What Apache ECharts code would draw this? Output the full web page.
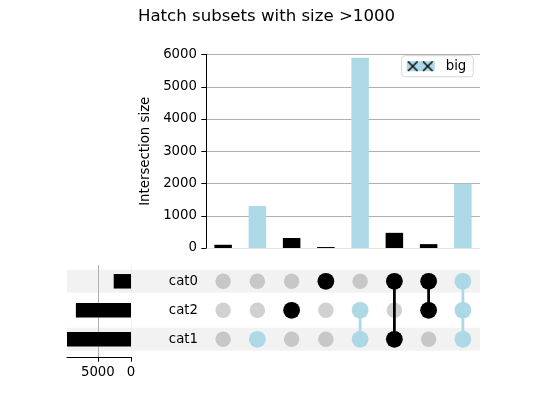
<!DOCTYPE html>
<html><head><meta charset="utf-8">
<script src="https://cdn.jsdelivr.net/npm/echarts@6/dist/echarts.min.js"></script>
<style>html,body{margin:0;padding:0;background:#fff}#c{width:533px;height:400px}</style>
</head><body><div id="c"></div>
<script>
// ---- data ----
const chartTitle = 'Hatch subsets with size >1000';
const categories = ['cat0', 'cat2', 'cat1'];          // matrix rows, top to bottom
const intersectionSizes = [100, 1300, 310, 30, 5900, 470, 120, 1990];
const inCat0 = [0, 0, 0, 1, 0, 1, 1, 1];
const inCat2 = [0, 0, 1, 0, 1, 0, 1, 1];
const inCat1 = [0, 1, 0, 0, 1, 1, 0, 1];
const sizeTicks = [0, 1000, 2000, 3000, 4000, 5000, 6000];
const totalTicks = [0, 5000];
const threshold = 1000;
const legendLabel = 'big';

// ---- derived ----
const membership = [inCat0, inCat2, inCat1];
const columns = intersectionSizes.map((_, j) => 'i' + j);
const totals = membership.map(row => row.reduce((s, m, j) => s + m * intersectionSizes[j], 0));
const maxTotal = Math.max(...totals);
const BLUE = '#add8e6';
const colColor = j => intersectionSizes[j] > threshold ? BLUE : '#000000';

const greyDots = [], activeDots = [], links = [];
columns.forEach((c, j) => {
  const rows = [];
  membership.forEach((row, r) => {
    if (row[j]) { rows.push(r); activeDots.push({ value: [j, r], itemStyle: { color: colColor(j), opacity: 1 } }); }
    else greyDots.push([j, r]);
  });
  if (rows.length > 1) links.push([j, Math.min(...rows), Math.max(...rows)]);
});

const FONT = 'DejaVu Sans';
const FS = 13.3;
const rowTop = 266.8, rowH = 87;

const hatchPath = 'path://M0,0 L1,0 L10,9 L10,10 L9,10 L0,1 Z M9,0 L10,0 L10,1 L1,10 L0,10 L0,9 Z';

const option = {
  animation: false,
  textStyle: { fontFamily: FONT },
  title: {
    text: chartTitle, left: 'center', top: 3.5,
    textStyle: { fontFamily: FONT, fontSize: 16.6, fontWeight: 'normal', color: '#000' }
  },
  legend: {
    left: 401.7, top: 55.7,
    padding: [4, 7, 4, 5],
    itemWidth: 28, itemHeight: 10, itemGap: 0,
    borderColor: '#d6d6d6', borderWidth: 1, borderRadius: 3,
    backgroundColor: 'rgba(255,255,255,0.8)',
    textStyle: { fontFamily: FONT, fontSize: FS, color: '#000', padding: [0, 0, 0, 6] },
    data: [{
      name: legendLabel, icon: 'rect',
      itemStyle: {
        color: BLUE,
        decal: { symbol: hatchPath, symbolSize: 1, color: '#000', dashArrayX: [12, 3], dashArrayY: [10, 0], rotation: 0 }
      }
    }]
  },
  grid: [
    { left: 206, right: 53, top: 54.5, height: 193.5 },     // 0 intersection bars
    { left: 67, right: 53, top: rowTop, height: rowH },       // 1 row shading
    { left: 206, right: 53, top: rowTop, height: rowH },      // 2 matrix
    { left: 67, width: 64, top: rowTop, height: rowH },       // 3 totals bars
    { left: 67, width: 64, top: 265, height: 92 }             // 4 totals axis
  ],
  xAxis: [
    { gridIndex: 0, type: 'category', data: columns, show: false },
    { gridIndex: 1, type: 'value', min: 0, max: 1, show: false },
    { gridIndex: 2, type: 'category', data: columns, show: false },
    { gridIndex: 3, type: 'value', min: 0, max: maxTotal, inverse: true, show: false },
    { gridIndex: 4, type: 'value', min: 0, max: maxTotal, inverse: true, interval: 5000, z: 1,
      axisLine: { show: true, lineStyle: { color: '#000', width: 1 } },
      axisTick: { show: true, length: 4.7, customValues: totalTicks, lineStyle: { color: '#000' } },
      axisLabel: { customValues: totalTicks, margin: 9, fontSize: FS, color: '#000', fontFamily: FONT,
        formatter: v => String(v) },
      splitLine: { show: true, lineStyle: { color: ['rgba(0,0,0,0.04)', '#b0b0b0', 'rgba(0,0,0,0)'], width: 1 } }
    }
  ],
  yAxis: [
    { gridIndex: 0, type: 'value', min: 0, max: 6000, interval: 1000,
      name: 'Intersection size', nameLocation: 'middle', nameGap: 48,
      nameTextStyle: { fontSize: FS, color: '#000', fontFamily: FONT },
      axisLine: { show: true, lineStyle: { color: '#000', width: 1 } },
      axisTick: { show: true, length: 4.7, lineStyle: { color: '#000' } },
      axisLabel: { margin: 9, fontSize: FS, color: '#000', fontFamily: FONT,
        formatter: v => sizeTicks.includes(v) ? String(v) : '' },
      splitLine: { show: true, lineStyle: { color: ['#e4e4e4', '#b0b0b0', '#b0b0b0', '#b0b0b0', '#b0b0b0', '#b0b0b0', '#b0b0b0'], width: 1 } }
    },
    { gridIndex: 1, type: 'category', data: categories, inverse: true, show: false },
    { gridIndex: 2, type: 'category', data: categories, inverse: true,
      axisLine: { show: false }, axisTick: { show: false },
      axisLabel: { margin: 8, fontSize: FS, color: '#000', fontFamily: FONT } },
    { gridIndex: 3, type: 'category', data: categories, inverse: true, show: false },
    { gridIndex: 4, type: 'value', show: false }
  ],
  series: [
    { type: 'bar', name: 'shade', xAxisIndex: 1, yAxisIndex: 1, silent: true, z: 0,
      barWidth: 23, itemStyle: { color: 'rgba(0,0,0,0.05)' },
      data: categories.map((c, r) => r % 2 === 0 ? 1 : '-') },
    { type: 'bar', name: legendLabel, xAxisIndex: 0, yAxisIndex: 0, barWidth: 17.5, barGap: '-100%',
      itemStyle: { color: BLUE },
      data: intersectionSizes.map(v => v > threshold ? v : '-') },
    { type: 'bar', name: 'other', xAxisIndex: 0, yAxisIndex: 0, barWidth: 17.5, barGap: '-100%',
      itemStyle: { color: '#000' },
      data: intersectionSizes.map(v => v > threshold ? '-' : v) },
    { type: 'bar', name: 'totals', xAxisIndex: 3, yAxisIndex: 3, barWidth: 14.5, z: 3,
      itemStyle: { color: '#000' }, data: totals },
    { type: 'scatter', name: 'empty', xAxisIndex: 2, yAxisIndex: 2, z: 3, symbolSize: 15.5,
      itemStyle: { color: 'rgba(0,0,0,0.18)', opacity: 1 }, data: greyDots },
    { type: 'custom', name: 'links', xAxisIndex: 2, yAxisIndex: 2, z: 4,
      encode: { x: 0, y: [1, 2] }, data: links,
      renderItem: (params, api) => {
        const j = api.value(0);
        const a = api.coord([j, api.value(1)]);
        const b = api.coord([j, api.value(2)]);
        return { type: 'line', shape: { x1: a[0], y1: a[1], x2: b[0], y2: b[1] },
          style: { stroke: colColor(j), lineWidth: 2.8 } };
      } },
    { type: 'scatter', name: 'members', xAxisIndex: 2, yAxisIndex: 2, z: 5, symbolSize: 16.8,
      itemStyle: { opacity: 1 }, data: activeDots }
  ]
};
const chart = echarts.init(document.getElementById('c'), null, { renderer: 'canvas' });
chart.setOption(option);
</script>
</body></html>
